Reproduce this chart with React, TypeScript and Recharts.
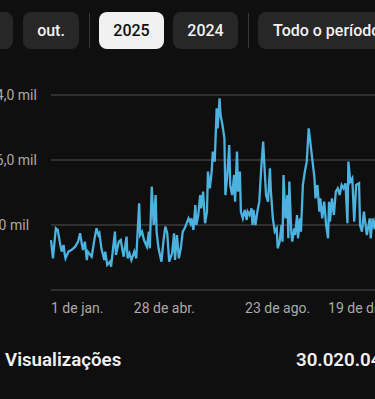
import React from "react";
import { LineChart, Line, XAxis, YAxis, CartesianGrid } from "recharts";

const days = [
  0, 2, 5, 7, 9, 11, 13, 14, 15, 18,
  21, 25, 28, 30, 32, 33, 35, 37, 38, 42,
  45, 47, 49, 50, 52, 55, 56, 58, 61, 62,
  66, 67, 70, 72, 74, 75, 78, 79, 81, 83,
  86, 88, 91, 92, 94, 96, 99, 101, 102, 104,
  106, 108, 109, 111, 114, 116, 118, 120, 122, 125,
  127, 128, 130, 132, 134, 136, 138, 142, 144, 145,
  147, 149, 150, 152, 154, 155, 157, 159, 161, 162,
  164, 166, 167, 169, 171, 172, 174, 175, 177, 179,
  180, 182, 184, 185, 187, 189, 190, 192, 193, 195,
  196, 198, 200, 202, 203, 205, 207, 208, 209, 211,
  213, 215, 217, 219, 221, 222, 224, 226, 227, 229,
  231, 233, 234, 236, 238, 239, 240, 242, 244, 245,
  246, 248, 249, 251, 252, 254, 255, 257, 258, 260,
  262, 264, 266, 268, 270, 272, 273, 275, 277, 278,
  280, 282, 284, 286, 287, 288, 290, 292, 294, 296,
  298, 300, 302, 304, 306, 307, 309, 311, 313, 315,
  318, 319, 321, 323, 326, 329, 330, 332, 334, 336,
  338, 341, 343, 346, 348, 350, 352,
];

const views = [
  6150, 3900, 7590, 7390, 5950, 4720, 5540, 4510, 3900, 4720,
  4920, 5330, 5950, 6980, 5540, 4920, 5950, 3690, 4720, 4100,
  6360, 7590, 6770, 6980, 5130, 3690, 4720, 3080, 3490, 2870,
  7180, 4310, 5950, 6150, 4720, 4100, 6570, 3900, 4510, 3690,
  4720, 3900, 10670, 6770, 7180, 6150, 5330, 7180, 5130, 12720,
  8000, 11690, 7180, 5130, 3490, 5950, 7800, 6980, 3490, 4510,
  6980, 3690, 6770, 3900, 5130, 7180, 7590, 8820, 8210, 8820,
  7390, 10460, 8000, 9230, 11690, 10050, 12100, 8210, 9640, 14570,
  12510, 14770, 17030, 15800, 22360, 19900, 23590, 21540, 20310, 18670,
  11690, 14160, 17850, 12920, 11690, 14160, 10870, 17030, 12100, 14570,
  9640, 8820, 9850, 8620, 9640, 9230, 10050, 8000, 9850, 8000,
  9640, 10870, 14980, 18260, 13750, 11690, 10870, 14980, 12100, 8820,
  7180, 7590, 5130, 5950, 8000, 5950, 14160, 8820, 11690, 6360,
  13340, 7180, 5950, 7590, 6770, 9230, 6360, 8820, 7180, 12920,
  14570, 15800, 19900, 17850, 15800, 13750, 11280, 12920, 9640, 11280,
  8820, 10870, 8000, 6360, 10870, 8410, 11280, 9230, 12100, 12510,
  11690, 12920, 12510, 13130, 8210, 15800, 13340, 13750, 8410, 12920,
  13130, 8000, 7180, 9640, 6770, 8820, 6360, 8820, 7500, 9600,
  7100, 8900, 6900, 9200, 7600, 8500, 7900,
];

const xTicks = [0, 117, 234, 352];
const xTickLabels = ["1 de jan.", "28 de abr.", "23 de ago.", "19 de dez."];
const yTicks = [0, 8000, 16000, 24000];
const yTickLabels = ["", "8,0 mil", "16,0 mil", "24,0 mil"];

const periodButtons = ["", "out.", "2025", "2024", "Todo o período"];

const data = days.map((d, i) => ({ day: d, views: views[i] }));

const FONT = "Roboto, 'Noto Sans', sans-serif";

const XTick = (props: any) => {
  const { x, y, payload } = props;
  const idx = xTicks.indexOf(payload.value);
  const anchor = idx === 0 ? "start" : idx === xTicks.length - 1 ? "end" : "middle";
  return (
    <text x={x} y={y + 23} textAnchor={anchor} fill="#aaaaaa" fontSize={14} fontFamily={FONT}>
      {xTickLabels[idx]}
    </text>
  );
};

const YTick = (props: any) => {
  const { y, payload } = props;
  const idx = yTicks.indexOf(payload.value);
  return (
    <text x={8} y={y + 5} textAnchor="start" fill="#aaaaaa" fontSize={14} fontFamily={FONT}>
      {yTickLabels[idx]}
    </text>
  );
};

const btnBase: React.CSSProperties = {
  position: "absolute",
  top: 12,
  height: 37,
  borderRadius: 8,
  background: "#272727",
  color: "#f1f1f1",
  fontFamily: FONT,
  fontSize: 16,
  fontWeight: 500,
  display: "flex",
  alignItems: "center",
  boxSizing: "border-box",
  whiteSpace: "nowrap",
};

export default function App() {
  return (
    <div
      style={{
        position: "fixed",
        left: 0,
        top: 0,
        width: 375,
        height: 399,
        overflow: "hidden",
        background: "#0f0f0f",
        fontFamily: FONT,
      }}
    >
      <div style={{ ...btnBase, left: -50, width: 63 }}>{periodButtons[0]}</div>
      <div style={{ ...btnBase, left: 23, width: 56, justifyContent: "center" }}>{periodButtons[1]}</div>
      <div style={{ position: "absolute", left: 89, top: 13, width: 1, height: 35, background: "#3a3a3a" }} />
      <div
        style={{
          ...btnBase,
          left: 99,
          width: 65,
          justifyContent: "center",
          background: "#f1f1f1",
          color: "#0f0f0f",
        }}
      >
        {periodButtons[2]}
      </div>
      <div style={{ ...btnBase, left: 173, width: 65, justifyContent: "center" }}>{periodButtons[3]}</div>
      <div style={{ position: "absolute", left: 248, top: 13, width: 1, height: 35, background: "#3a3a3a" }} />
      <div style={{ ...btnBase, left: 258, width: 140, paddingLeft: 15 }}>{periodButtons[4]}</div>

      <div style={{ position: "absolute", left: -20, top: 80 }}>
        <LineChart
          width={412}
          height={240}
          data={data}
          margin={{ top: 15, right: 0, bottom: 0, left: 0 }}
        >
          <CartesianGrid vertical={false} stroke="#3d3d3d" strokeWidth={1.5} />
          <XAxis
            dataKey="day"
            type="number"
            domain={[0, 352]}
            ticks={xTicks}
            axisLine={false}
            tickLine={false}
            tickSize={0}
            tickMargin={0}
            height={30}
            tick={<XTick />}
            interval={0}
          />
          <YAxis
            type="number"
            domain={[0, 24000]}
            ticks={yTicks}
            axisLine={false}
            tickLine={false}
            tickSize={0}
            width={71}
            tick={<YTick />}
            interval={0}
          />
          <Line
            type="linear"
            dataKey="views"
            stroke="#4cb2e0"
            strokeWidth={2.3}
            dot={false}
            isAnimationActive={false}
          />
        </LineChart>
      </div>

      <div
        style={{
          position: "absolute",
          left: 5,
          top: 349,
          color: "#f1f1f1",
          fontSize: 18.7,
          fontWeight: 600,
          whiteSpace: "nowrap",
        }}
      >
        Visualizações
      </div>
      <div
        style={{
          position: "absolute",
          left: 296,
          top: 349,
          color: "#f1f1f1",
          fontSize: 18.7,
          fontWeight: 600,
          whiteSpace: "nowrap",
        }}
      >
        30.020.045
      </div>
    </div>
  );
}
